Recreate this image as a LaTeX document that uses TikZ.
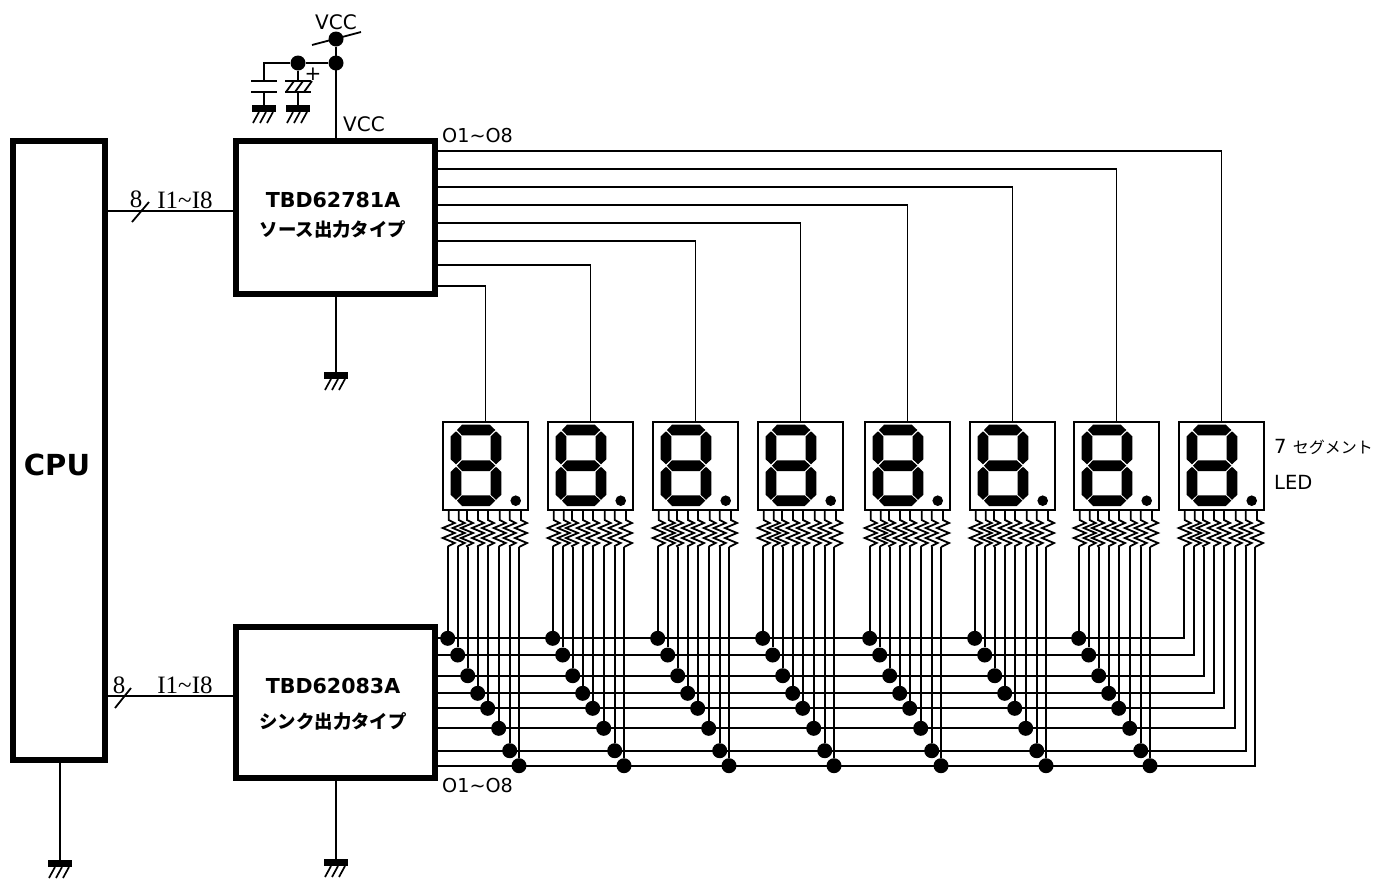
\documentclass[tikz,border=0pt]{standalone}
\usepackage{fontspec}
\setmainfont{DejaVu Sans}
\newfontfamily\cjk{Noto Sans CJK JP}
\newfontfamily\serifnum{Liberation Serif}
\tikzset{
    wire/.style={line width=1.8pt},
    chipbox/.style={draw,line width=6pt,inner sep=0pt},
    ledbox/.style={draw,line width=1.8pt,inner sep=0pt,minimum width=85pt,minimum height=88pt,anchor=north west},
    jdot/.style={circle,fill=black,inner sep=0pt,minimum size=15pt},
    txt/.style={inner sep=0pt,font=\fontsize{20}{24}\selectfont},
    nrm/.style={inner sep=0pt,font=\fontsize{25}{28}\serifnum},
    gndsym/.pic={
        \fill (-12,0) rectangle (12,7);
        \foreach \dx in {-10,-3,4} \draw[line width=1.7pt] (\dx+5,7) -- (\dx-1,18);
    },
    sevenseg/.pic={
        \fill (15,9) -- (20,3.7) -- (47.7,3.7) -- (53.3,9) -- (47.7,14.3) -- (20,14.3) -- cycle;
        \fill (15,44.7) -- (20,39.3) -- (47.7,39.3) -- (53.3,44.7) -- (47.7,50) -- (20,50) -- cycle;
        \fill (15,79.7) -- (20,74.3) -- (47.7,74.3) -- (53.3,79.7) -- (47.7,85) -- (20,85) -- cycle;
        \foreach \sx/\sy in {14/10.3,54/10.3,14/45.8,54/45.8}
            \fill (\sx,\sy) -- (\sx+5.3,\sy+5) -- (\sx+5.3,\sy+28) -- (\sx,\sy+33) -- (\sx-5.3,\sy+28) -- (\sx-5.3,\sy+5) -- cycle;
        \fill (73.7,79.7) circle (5.3);
    },
}
\begin{document}
\begin{tikzpicture}[x=1pt,y=-1pt]
        \useasboundingbox (0,0) rectangle (1376,879);
        %% Blocks
        \node[chipbox,minimum width=92.5pt,minimum height=619pt] (cpu) at (58.75,450.5) {};
        \node[chipbox,minimum width=199pt,minimum height=153pt] (srcdrv) at (335.5,217.5) {};
        \node[chipbox,minimum width=199pt,minimum height=151pt] (snkdrv) at (335.5,702.5) {};
        \node[inner sep=0pt,font=\fontsize{29}{34}\selectfont\bfseries] (cpulabel) at (57,465) {CPU};
        \node[txt,font=\fontsize{20.6}{24}\selectfont\bfseries] (srcname) at (333,200) {TBD62781A};
        \node[inner sep=0pt,font=\fontsize{18.4}{22}\selectfont\bfseries\cjk] (srctype) at (333,229) {ソース出力タイプ};
        \node[txt,font=\fontsize{20.6}{24}\selectfont\bfseries] (snkname) at (333,686) {TBD62083A};
        \node[inner sep=0pt,font=\fontsize{18.4}{22}\selectfont\bfseries\cjk] (snktype) at (333,721) {シンク出力タイプ};
        %% CPU to drivers
        \draw[wire] (cpu.east |- 0,211) -- (srcdrv.west |- 0,211);
        \draw[wire] (cpu.east |- 0,696) -- (snkdrv.west |- 0,696);
        \draw[wire] (132,222) -- (149,202);
        \draw[wire] (115,708) -- (131,688);
        \node[nrm] (nsrc) at (136,199) {8};
        \node[nrm] (nsnk) at (119,685) {8};
        \node[nrm] (insrc) at (185,200) {I1\textasciitilde I8};
        \node[nrm] (insnk) at (185,685) {I1\textasciitilde I8};
        %% Supply
        \node[jdot] (vcctop) at (336,39) {};
        \node[jdot] (vccjoin) at (336,63) {};
        \node[jdot] (capjoin) at (298,63) {};
        \coordinate (capa) at (264,81);
        \coordinate (gndcapa) at (264,105);
        \coordinate (gndcapb) at (298,105);
        \draw[wire] (vcctop) -- (srcdrv.north -| vcctop);
        \draw[wire] (vccjoin) -- (capjoin);
        \draw[wire] (capjoin) -- (capa |- capjoin) -- (capa);
        \draw[wire] (312,45) -- (361,32);
        \draw[wire] (251,81) -- (277,81);
        \draw[wire] (251,92) -- (277,92);
        \draw[wire] (264,92) -- (gndcapa);
        \draw[wire] (capjoin) -- (298,81);
        \draw[wire] (285,81) -- (311,81);
        \draw[wire] (285,92) -- (311,92);
        \foreach \dx in {-12,-3,6} \draw[wire] (298+\dx,92) -- (298+\dx+8,81);
        \draw[wire] (298,92) -- (gndcapb);
        \pic at (gndcapa) {gndsym};
        \pic at (gndcapb) {gndsym};
        \node[inner sep=0pt,font=\fontsize{20}{24}\selectfont] (plus) at (313,74) {+};
        \node[txt] (vccnet) at (336,22) {VCC};
        \node[txt,anchor=west] (vccpin) at (343,124) {VCC};
        \node[inner sep=0pt,anchor=west,font=\fontsize{19.2}{24}\selectfont] (osrc) at (442,136) {O1\textasciitilde O8};
        \node[inner sep=0pt,anchor=west,font=\fontsize{19.2}{24}\selectfont] (osnk) at (442,785) {O1\textasciitilde O8};
        %% Grounds
        \coordinate (gndcpu) at (60,860);
        \coordinate (gndsrc) at (336,372);
        \coordinate (gndsnk) at (336,859);
        \draw[wire] (cpu.south -| gndcpu) -- (gndcpu);
        \draw[wire] (srcdrv.south -| gndsrc) -- (gndsrc);
        \draw[wire] (snkdrv.south -| gndsnk) -- (gndsnk);
        \pic at (gndcpu) {gndsym};
        \pic at (gndsrc) {gndsym};
        \pic at (gndsnk) {gndsym};
        %% LED units
        \foreach \lx [count=\k] in {442,547,652,757,864,969,1073,1178} {
            \node[ledbox] (led\k) at (\lx,421) {};
            \pic at (\lx,421) {sevenseg};
            \foreach \xa/\xb [count=\i] in {6.7/5.7,16.7/15.7,25/25.7,36/35.7,46/45.7,57.7/56.7,67.7/67.7,79/77} {
                \coordinate (pa\k-\i) at (\lx+\xa,509);
                \coordinate (pb\k-\i) at (\lx+\xb,547);
                \draw[wire] (pa\k-\i) -- ++(0,11) -- ++(6,3) -- ++(-12,5) -- ++(12,5) -- ++(-12,5) -- ++(12,5) -- ++(-6,3) -- (pb\k-\i);
            }
        }
        %% Digit lines
        \foreach \yo [count=\k] in {286,265,241,223,205,187,169,151} {
            \draw[wire] (srcdrv.east |- 0,\yo) -| (led\k.north);
        }
        %% Segment bus
        \foreach \yo [count=\i] in {638.3,655,675.7,693.3,708.3,728.3,750.7,765.7} {
            \draw[wire] (snkdrv.east |- 0,\yo) -| (pb8-\i);
            \foreach \k in {1,...,7} {
                \node[jdot] (d\k-\i) at (pb\k-\i |- 0,\yo) {};
                \draw[wire] (pb\k-\i) -- (d\k-\i);
            }
        }
        \node[inner sep=0pt,anchor=west,font=\fontsize{19.5}{22}\selectfont] (ledname) at (1274,447) {7 {\fontsize{16}{20}\selectfont\cjk セグメント}};
        \node[inner sep=0pt,anchor=west,font=\fontsize{19.5}{22}\selectfont] (ledtype) at (1274,482) {LED};
\end{tikzpicture}
\end{document}
